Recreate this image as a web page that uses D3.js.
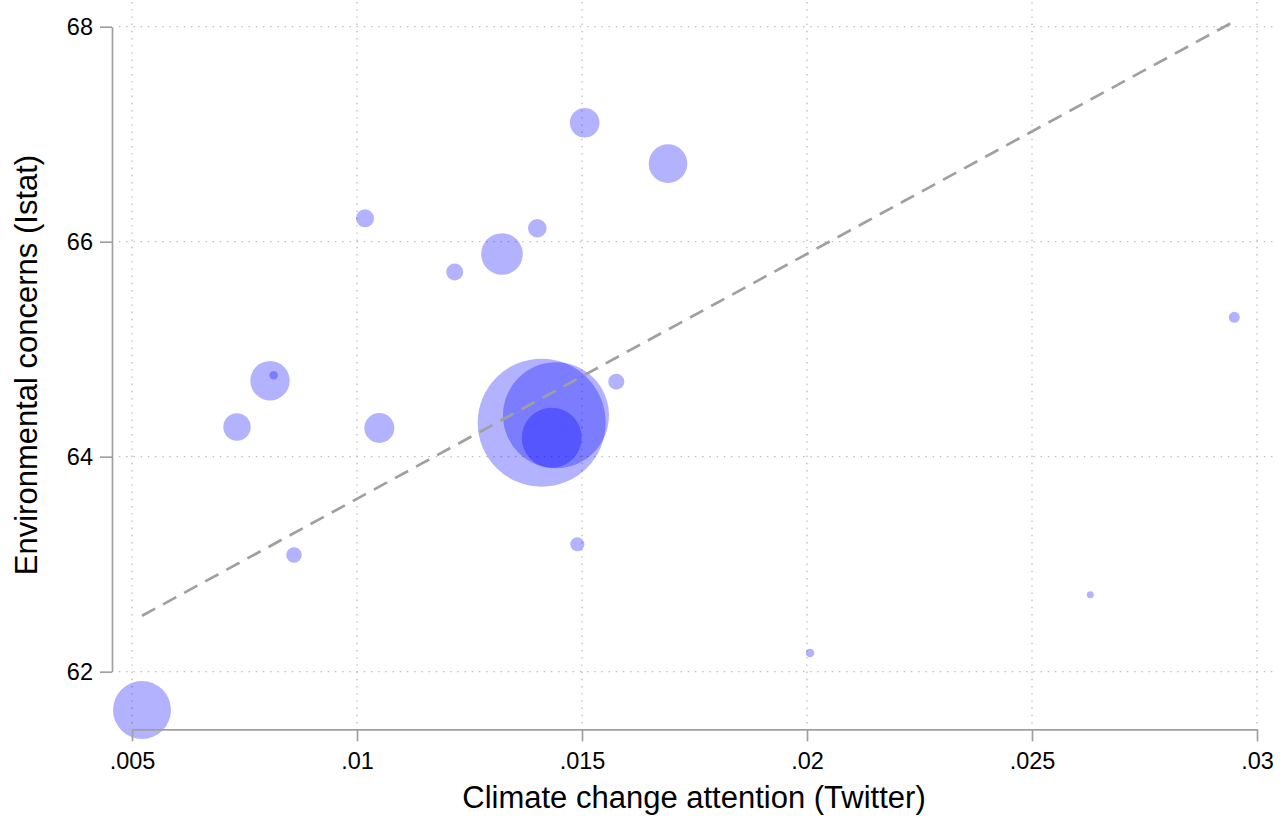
<!DOCTYPE html>
<html>
<head>
<meta charset="utf-8">
<script src="https://cdn.jsdelivr.net/npm/d3@7"></script>
<style>
  body { margin: 0; background: #fff; }
  svg { display: block; font-family: "Liberation Sans", Arial, Helvetica, sans-serif; }
</style>
</head>
<body>
<svg id="chart" width="1287" height="819"></svg>
<script>
// values (one bubble per region)
const attention = [.005222, .007333, .008067, .008149, .0086, .010178, .010496, .012171, .013222, .014007,
                   .014104, .014422, .014327, .014896, .01506, .015762, .016911, .020067, .026296, .029496];
const concerns  = [61.644, 64.276, 64.707, 64.757, 63.086, 66.218, 64.267, 65.718, 65.886, 66.125,
                   64.316, 64.385, 64.177, 63.185, 67.107, 64.698, 66.726, 62.174, 62.716, 65.297];
const weights   = [20.5, 4.58, 9.47, 0.45, 1.49, 1.98, 5.49, 1.76, 10.56, 2.11,
                   100, 68.6, 21.97, 1.20, 5.35, 1.56, 9.09, 0.45, 0.30, 0.74];
const xTicks = [.005, .01, .015, .02, .025, .03];
const yTicks = [62, 64, 66, 68];
// fitted line, end points
const fitX = [.005222, .029496];
const fitY = [62.52, 68.05];

const svg = d3.select("#chart");

let x = d3.scaleLinear().domain([.005, .03]).range([132, 1257]),
    y = d3.scaleLinear().domain([62, 68]).range([671.7, 26.7]),
    r = d3.scaleSqrt().domain([0, 100]).range([0, 64]);

const fmtX = d => d3.format(".3~f")(d).replace(/^0/, "");

// dotted grid
svg.append("g").selectAll("line")
    .data(yTicks)
    .enter().append("line")
        .attr("x1", 119).attr("x2", 1278)
        .attr("y1", d => y(d)).attr("y2", d => y(d))
        .attr("stroke", "#bbb").attr("stroke-width", 1.3)
        .attr("stroke-dasharray", "1.4,5.8");

svg.append("g").selectAll("line")
    .data(xTicks)
    .enter().append("line")
        .attr("x1", d => x(d)).attr("x2", d => x(d))
        .attr("y1", 2).attr("y2", 724)
        .attr("stroke", "#bbb").attr("stroke-width", 1.3)
        .attr("stroke-dasharray", "1.4,5.8");

// bubbles
const pts = attention.map((v, i) => ({x: v, y: concerns[i], w: weights[i]}));
svg.append("g").selectAll("circle")
    .data(pts)
    .enter().append("circle")
        .attr("cx", d => x(d.x))
        .attr("cy", d => y(d.y))
        .attr("r", d => r(d.w))
        .attr("fill", "#0000ff")
        .attr("fill-opacity", 0.3);

// fit line
svg.append("path")
    .datum(fitX.map((v, i) => [v, fitY[i]]))
    .attr("d", d3.line().x(d => x(d[0])).y(d => y(d[1])))
    .attr("fill", "none")
    .attr("stroke", "#a0a0a0")
    .attr("stroke-width", 2.7)
    .attr("stroke-dasharray", "15,9");

// axes
let gx = svg.append("g")
    .attr("transform", "translate(0,729.3)")
    .call(d3.axisBottom(x).tickValues(xTicks).tickFormat(fmtX).tickSize(12).tickSizeOuter(0).tickPadding(11));

let gy = svg.append("g")
    .attr("transform", "translate(112,0)")
    .call(d3.axisLeft(y).tickValues(yTicks).tickFormat(d3.format("d")).tickSize(12).tickSizeOuter(0).tickPadding(7));

[gx, gy].forEach(g => {
    g.select(".domain").attr("stroke", "#a0a0a0").attr("stroke-width", 1.7);
    g.selectAll(".tick line").attr("stroke", "#a0a0a0").attr("stroke-width", 1.7);
    g.selectAll(".tick text").attr("fill", "#000").style("font-size", "23.5px")
        .style("font-family", "'Liberation Sans', Arial, Helvetica, sans-serif");
});

// titles
svg.append("text")
    .attr("x", 694)
    .attr("y", 808)
    .attr("text-anchor", "middle")
    .style("font-size", "31px")
    .text("Climate change attention (Twitter)");

svg.append("text")
    .attr("transform", "translate(37,365) rotate(-90)")
    .attr("text-anchor", "middle")
    .style("font-size", "31px")
    .text("Environmental concerns (Istat)");
</script>
</body>
</html>
